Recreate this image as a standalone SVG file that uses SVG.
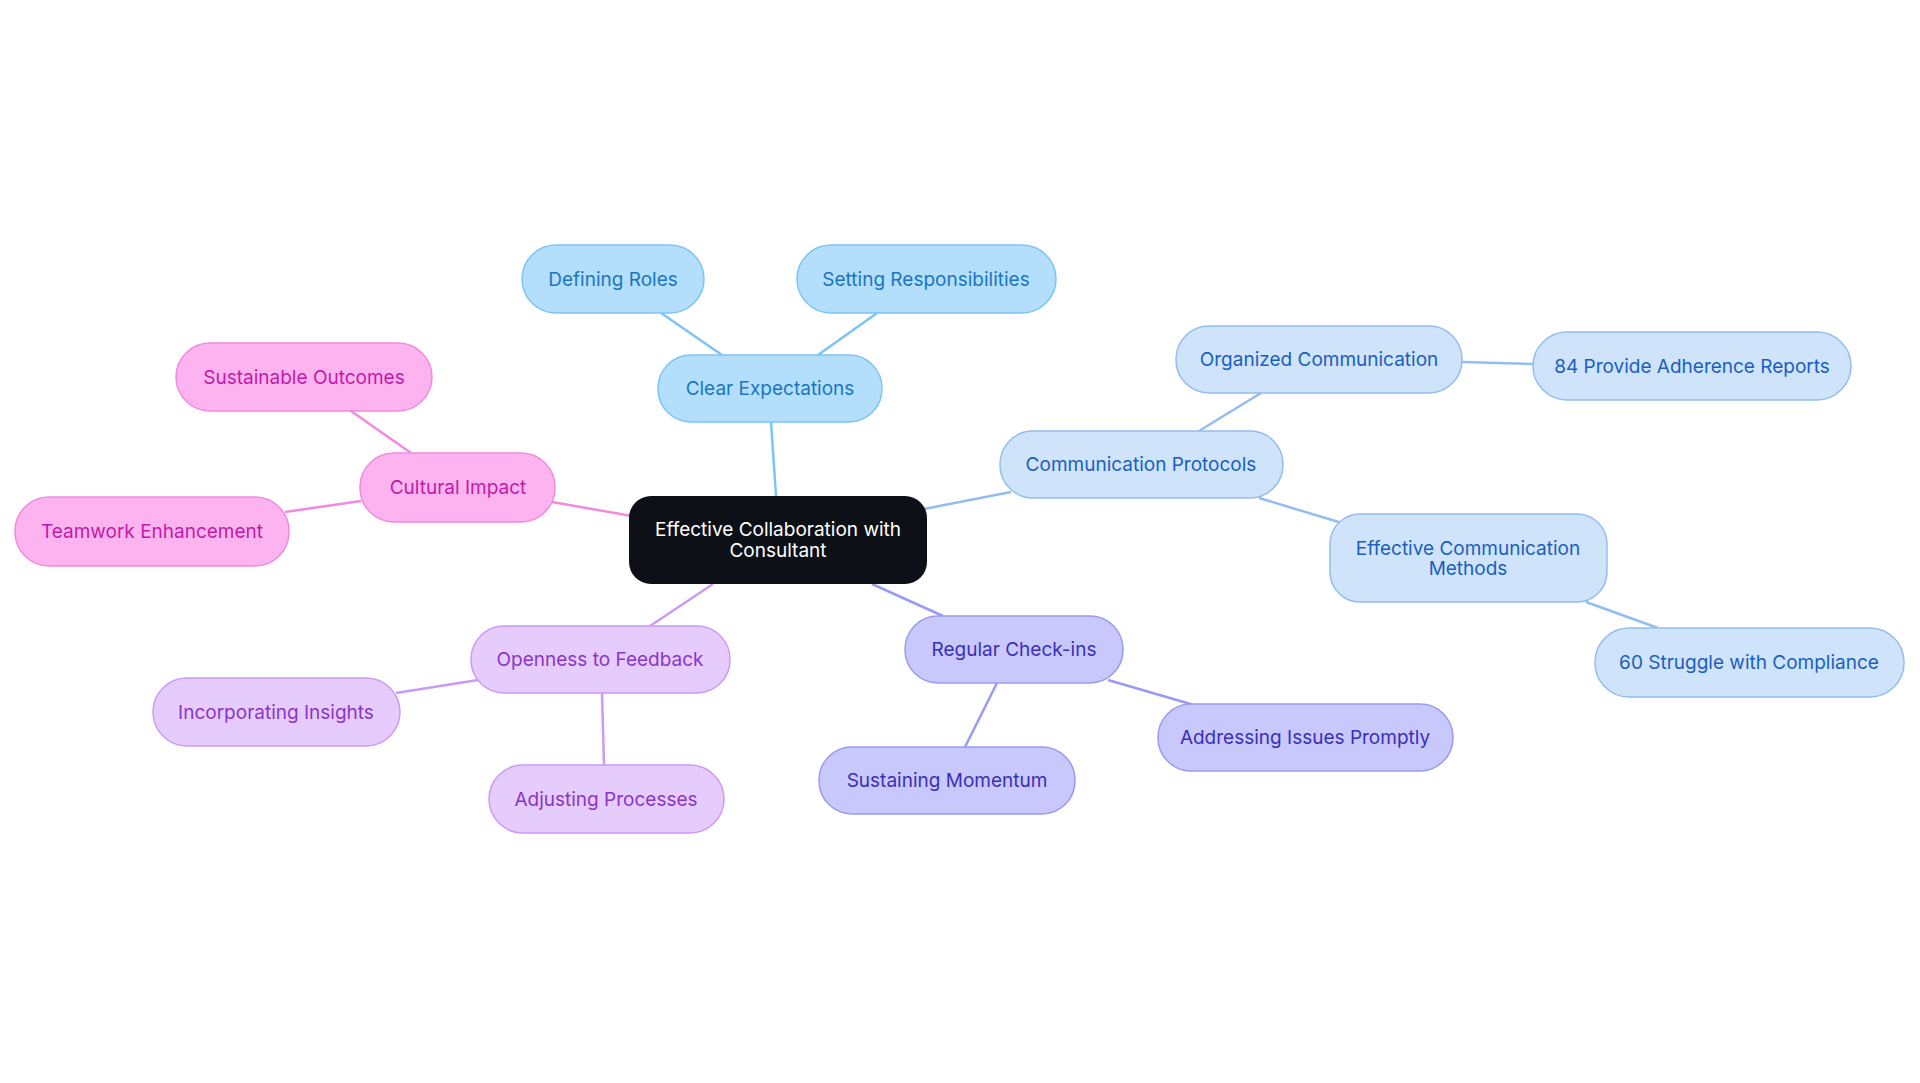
<svg xmlns="http://www.w3.org/2000/svg" width="1920" height="1083" viewBox="0 0 1920 1083">
<style>
text{font-family:Inter,"Noto Sans","Liberation Sans",sans-serif;font-size:19px;text-anchor:middle;dominant-baseline:central}
.e line{stroke-width:2.5;fill:none}
.b rect{fill:#b3dffc;stroke:#7cc4f5;stroke-width:1.5}.b text{fill:#1976c0}
.c rect{fill:#cfe3fb;stroke:#93bdf0;stroke-width:1.5}.c text{fill:#1a5fc0}
.p rect{fill:#c8c8fc;stroke:#9a9af0;stroke-width:1.5}.p text{fill:#3a2fb8}
.l rect{fill:#e6ccfc;stroke:#cc99f5;stroke-width:1.5}.l text{fill:#8a35c9}
.k rect{fill:#fdb3f0;stroke:#f08ae0;stroke-width:1.5}.k text{fill:#c21aa8}
</style>
<rect width="1920" height="1083" fill="#fff"/>
<g id="connectors" class="e">
<line x1="771" y1="422" x2="776" y2="496" stroke="#7cc4f5"/>
<line x1="661" y1="313" x2="722" y2="355" stroke="#7cc4f5"/>
<line x1="877" y1="313" x2="818" y2="355" stroke="#7cc4f5"/>
<line x1="924" y1="509" x2="1011" y2="492" stroke="#93bdf0"/>
<line x1="1261" y1="393" x2="1199" y2="431" stroke="#93bdf0"/>
<line x1="1462" y1="362" x2="1533" y2="364" stroke="#93bdf0"/>
<line x1="1259" y1="498" x2="1342" y2="523" stroke="#93bdf0"/>
<line x1="1586" y1="602" x2="1658" y2="628" stroke="#93bdf0"/>
<line x1="872" y1="584" x2="943" y2="616" stroke="#9a9af0"/>
<line x1="1108" y1="680" x2="1194" y2="705" stroke="#9a9af0"/>
<line x1="997" y1="683" x2="965" y2="747" stroke="#9a9af0"/>
<line x1="713" y1="584" x2="650" y2="626" stroke="#cc99f5"/>
<line x1="478" y1="680" x2="396" y2="693" stroke="#cc99f5"/>
<line x1="602" y1="693" x2="604" y2="765" stroke="#cc99f5"/>
<line x1="632" y1="516" x2="552" y2="502" stroke="#f08ae0"/>
<line x1="351" y1="411" x2="411" y2="453" stroke="#f08ae0"/>
<line x1="361" y1="501" x2="285" y2="512" stroke="#f08ae0"/>
</g>
<g id="center"><rect x="629" y="496" width="298" height="88" rx="22" fill="#0d1117"/><text x="778" y="529" fill="#fff">Effective Collaboration with</text><text x="778" y="550" fill="#fff">Consultant</text></g>
<g id="clear" class="b"><rect x="658" y="355" width="224" height="67" rx="33"/><text x="770" y="388">Clear Expectations</text></g>
<g id="roles" class="b"><rect x="522" y="245" width="182" height="68" rx="34"/><text x="613" y="279">Defining Roles</text></g>
<g id="resp" class="b"><rect x="797" y="245" width="259" height="68" rx="34"/><text x="926" y="279">Setting Responsibilities</text></g>
<g id="comm" class="c"><rect x="1000" y="431" width="283" height="67" rx="33"/><text x="1141" y="464">Communication Protocols</text></g>
<g id="org" class="c"><rect x="1176" y="326" width="286" height="67" rx="33"/><text x="1319" y="359">Organized Communication</text></g>
<g id="r84" class="c"><rect x="1533" y="332" width="318" height="68" rx="34"/><text x="1692" y="366">84 Provide Adherence Reports</text></g>
<g id="eff" class="c"><rect x="1330" y="514" width="277" height="88" rx="30"/><text x="1468" y="548">Effective Communication</text><text x="1468" y="568">Methods</text></g>
<g id="r60" class="c"><rect x="1595" y="628" width="309" height="69" rx="34"/><text x="1749" y="662">60 Struggle with Compliance</text></g>
<g id="check" class="p"><rect x="905" y="616" width="218" height="67" rx="33"/><text x="1014" y="649">Regular Check-ins</text></g>
<g id="addr" class="p"><rect x="1158" y="704" width="295" height="67" rx="33"/><text x="1305" y="737">Addressing Issues Promptly</text></g>
<g id="sust" class="p"><rect x="819" y="747" width="256" height="67" rx="33"/><text x="947" y="780">Sustaining Momentum</text></g>
<g id="open" class="l"><rect x="471" y="626" width="259" height="67" rx="33"/><text x="600" y="659">Openness to Feedback</text></g>
<g id="inc" class="l"><rect x="153" y="678" width="247" height="68" rx="34"/><text x="276" y="712">Incorporating Insights</text></g>
<g id="adj" class="l"><rect x="489" y="765" width="235" height="68" rx="34"/><text x="606" y="799">Adjusting Processes</text></g>
<g id="cult" class="k"><rect x="360" y="453" width="195" height="69" rx="34"/><text x="458" y="487">Cultural Impact</text></g>
<g id="sout" class="k"><rect x="176" y="343" width="256" height="68" rx="34"/><text x="304" y="377">Sustainable Outcomes</text></g>
<g id="team" class="k"><rect x="15" y="497" width="274" height="69" rx="34"/><text x="152" y="531">Teamwork Enhancement</text></g>
</svg>
